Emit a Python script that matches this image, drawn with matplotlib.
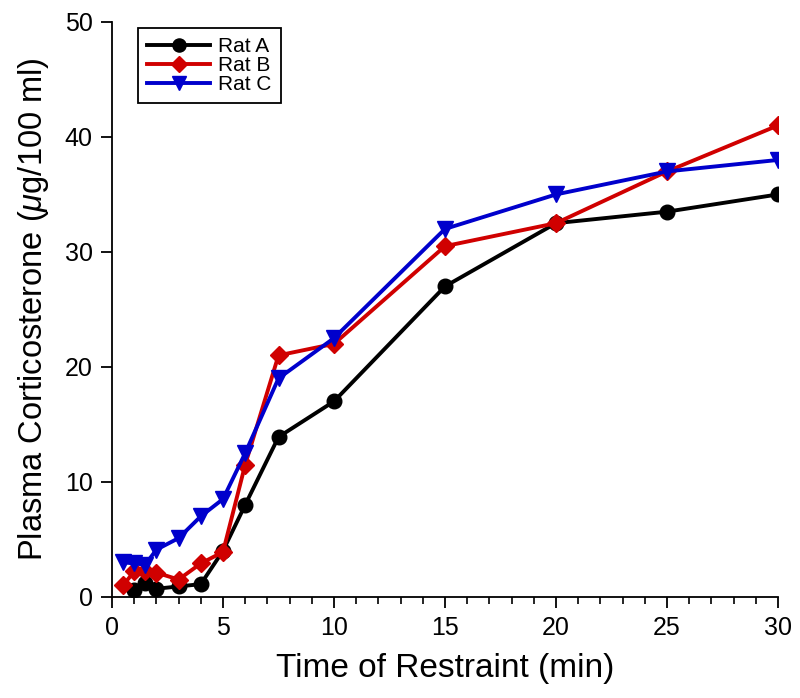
import matplotlib
matplotlib.use("Agg")
import matplotlib.pyplot as plt
from matplotlib.ticker import MultipleLocator

plt.rcParams['font.family'] = ['Liberation Sans', 'DejaVu Sans']
plt.rcParams['mathtext.fontset'] = 'custom'
plt.rcParams['mathtext.it'] = 'Liberation Sans:italic'
plt.rcParams['mathtext.rm'] = 'Liberation Sans'

x_a = [1, 1.5, 2, 3, 4, 5, 6, 7.5, 10, 15, 20, 25, 30]
y_a = [0.6, 1.2, 0.7, 0.9, 1.1, 4.0, 8.0, 13.9, 17.0, 27.0, 32.5, 33.5, 35.0]

x_b = [0.5, 1, 1.5, 2, 3, 4, 5, 6, 7.5, 10, 15, 20, 25, 30]
y_b = [1.0, 2.2, 2.2, 2.1, 1.5, 2.9, 3.9, 11.5, 21.0, 22.0, 30.5, 32.5, 37.0, 41.0]

x_c = [0.5, 1, 1.5, 2, 3, 4, 5, 6, 7.5, 10, 15, 20, 25, 30]
y_c = [3.0, 2.9, 2.8, 4.1, 5.1, 7.0, 8.5, 12.5, 19.0, 22.5, 32.0, 35.0, 37.0, 38.0]

labels = ["Rat A", "Rat B", "Rat C"]

fig = plt.figure(figsize=(8, 6.98), dpi=100)
ax = fig.add_axes([0.14, 0.145, 0.8325, 0.8235])

ax.plot(x_a, y_a, color='black', lw=2.8, marker='o', ms=10.5, label=labels[0])
ax.plot(x_b, y_b, color='#d00000', lw=2.8, marker='D', ms=9.5, label=labels[1])
ax.plot(x_c, y_c, color='#0000cc', lw=2.8, marker='v', ms=11.5, label=labels[2])

ax.set_xlim(0, 30)
ax.set_ylim(0, 50)
ax.xaxis.set_major_locator(MultipleLocator(5))
ax.xaxis.set_minor_locator(MultipleLocator(1))
ax.yaxis.set_major_locator(MultipleLocator(10))
ax.spines['top'].set_visible(False)
ax.spines['right'].set_visible(False)
ax.spines['left'].set_linewidth(1.3)
ax.spines['bottom'].set_linewidth(1.3)
ax.tick_params(which='major', length=8, width=1.3, labelsize=18, direction='out', pad=6)
ax.tick_params(which='minor', length=5, width=1.2)

ax.set_xlabel('Time of Restraint (min)', fontsize=24, labelpad=9)
ax.set_ylabel(r'Plasma Corticosterone ($\mathit{\mu}$g/100 ml)', fontsize=23.5, labelpad=10)

leg = ax.legend(loc='upper left', bbox_to_anchor=(0.039, 0.99), borderaxespad=0,
                fontsize=15, fancybox=False, edgecolor='black', framealpha=1,
                handlelength=3.0, handletextpad=0.4, borderpad=0.45,
                labelspacing=0.0, markerscale=0.9)
leg.get_frame().set_linewidth(1.3)

fig.savefig('out.png', dpi=100)
